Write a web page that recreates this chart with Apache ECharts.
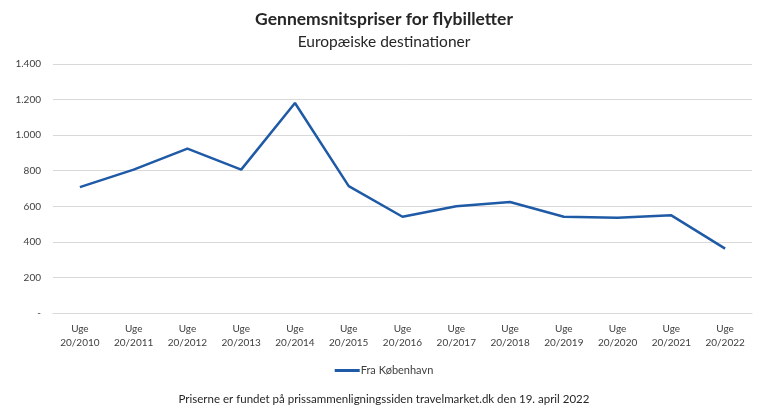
<!DOCTYPE html>
<html>
<head>
    <meta charset="utf-8">
    <style type="text/css">
        html,body { margin: 0px; padding: 0px; height: 100%; background: #fff; }
    </style>
    <script src="https://cdn.jsdelivr.net/npm/echarts@6/dist/echarts.min.js"></script>
</head>
<body>
    <div id="canvas" style="width: 768px; height: 420px;"></div>
    <script type="text/javascript">
        // data
        var years = ['2010','2011','2012','2013','2014','2015','2016','2017','2018','2019','2020','2021','2022'];
        var categories = years.map(function (y) { return 'Uge\n20/' + y; });
        var fraKbh = [708, 806, 924, 806, 1181, 713, 541, 600, 624, 541, 536, 549, 362];
        var yTicks = [0, 200, 400, 600, 800, 1000, 1200, 1400];

        var font = 'Lato, "Open Sans", sans-serif';
        var myChart = echarts.init(document.getElementById('canvas'));

        var option = {
            textStyle: { fontFamily: font },
            title: [
                { text: 'Gennemsnitspriser for flybilletter', left: 'center', top: 5,
                  textStyle: { fontFamily: font, fontSize: 17.5, fontWeight: 'bold', color: '#262626' } },
                { text: 'Europæiske destinationer', left: 'center', top: 29,
                  textStyle: { fontFamily: font, fontSize: 15.5, fontWeight: 'normal', color: '#262626' } },
                { text: 'Priserne er fundet på prissammenligningssiden travelmarket.dk den 19. april 2022', left: 'center', top: 388,
                  textStyle: { fontFamily: font, fontSize: 11.5, fontWeight: 'normal', color: '#262626' } }
            ],
            legend: {
                data: [{ name: 'Fra København', icon: 'rect' }],
                left: 'center', top: 360,
                itemWidth: 25, itemHeight: 3, itemGap: 2,
                textStyle: { fontFamily: font, fontSize: 11, color: '#404040', padding: [0, 0, 0, -4] }
            },
            grid: { left: 53, right: 16, top: 64, bottom: 107 },
            xAxis: {
                type: 'category',
                data: categories,
                axisLine: { lineStyle: { color: '#d9d9d9' } },
                axisTick: { show: false },
                axisLabel: { fontFamily: font, fontSize: 10, color: '#404040', lineHeight: 14, margin: 9, interval: 0 }
            },
            yAxis: {
                type: 'value',
                min: yTicks[0], max: yTicks[yTicks.length - 1], interval: 200,
                axisLine: { show: false },
                axisTick: { show: false },
                splitLine: { lineStyle: { color: '#d9d9d9' } },
                axisLabel: {
                    fontFamily: font, fontSize: 10, color: '#404040', margin: 12,
                    formatter: function (v) {
                        if (v === 0) return '-';
                        return String(v).replace(/\B(?=(\d{3})+(?!\d))/g, '.');
                    }
                }
            },
            series: [{
                name: 'Fra København',
                type: 'line',
                data: fraKbh,
                symbol: 'none',
                lineStyle: { color: '#1f5aa6', width: 2.5 },
                itemStyle: { color: '#1f5aa6' }
            }]
        };

        myChart.setOption(option);
    </script>
</body>
</html>
